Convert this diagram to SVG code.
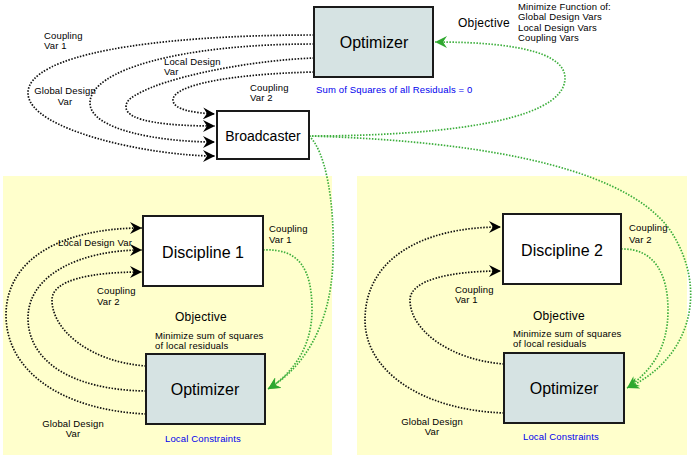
<svg xmlns="http://www.w3.org/2000/svg" width="700" height="458" viewBox="0 0 700 458">
<style>
text{font-family:"Liberation Sans",Arial,sans-serif;fill:#000}
.s{font-size:9.5px;letter-spacing:0.15px}
.b{fill:#0000ee}
.m{font-size:12px;letter-spacing:0.2px}
.l{font-size:16px}
.box{stroke:#1a1a1a;stroke-width:2}
.opt{fill:#d6e3e3}
.dis{fill:#fff}
.panel{fill:#ffffcc}
.k{fill:none;stroke:#111;stroke-width:1.7;stroke-dasharray:1.5 1.5;marker-end:url(#ak)}
.g{fill:none;stroke:#3cae3c;stroke-width:1.7;stroke-dasharray:1.5 1.5}
.ga{marker-end:url(#ag)}
</style>
<defs>
<marker id="ak" markerUnits="userSpaceOnUse" markerWidth="14" markerHeight="12" refX="12" refY="6" orient="auto" viewBox="0 0 14 12">
<path d="M0,0 L12,6 L0,12 L4,6 z" fill="#000"/>
</marker>
<marker id="ag" markerUnits="userSpaceOnUse" markerWidth="14" markerHeight="12" refX="12" refY="6" orient="auto" viewBox="0 0 14 12">
<path d="M0,0 L12,6 L0,12 L4,6 z" fill="#2fa82f"/>
</marker>
</defs>
<rect class="panel" x="3" y="176" width="329" height="279"/>
<rect class="panel" x="357" y="176" width="330" height="279"/>
<g id="connectors">
<path class="k" d="M314,35 C150,35 28,55 28,93 C28,130 150,156 215,156"/>
<path class="k" d="M314,44 C180,44 90,70 90,103 C90,130 160,142 215,142"/>
<path class="k" d="M314,58 C260,60 190,72 150,88 C132,96 126,100 126,107 C126,122 170,126 215,126"/>
<path class="k" d="M314,72 C230,74 173,85 173,100 C173,110 195,113 215,114"/>
<path class="g ga" d="M309,136 C420,136 565,125 565,78 C565,45 480,42 435,42"/>
<path class="g ga" d="M309,136 C450,140 620,160 670,230 C710,290 690,360 627,388"/>
<path class="g ga" d="M309,136 C325,150 335,200 333,260 C331,330 300,370 268,389"/>
<path class="g ga" d="M263,250 C300,248 312,270 312,310 C312,350 290,375 268,389"/>
<path class="g ga" d="M621,249 C655,248 668,275 668,310 C668,350 650,372 627,388"/>
<path class="k" d="M146,414 C60,410 6,370 6,315 C6,260 60,228 142,228"/>
<path class="k" d="M146,391 C70,390 28,360 28,318 C28,275 80,250 142,250"/>
<path class="k" d="M146,366 C90,362 52,330 52,300 C52,280 90,272 142,272"/>
<path class="k" d="M504,413 C420,410 365,370 365,320 C365,260 420,227 501,227"/>
<path class="k" d="M504,364 C450,360 410,330 410,300 C410,280 450,271 501,271"/>
</g>
<g id="optimizer-top">
<rect class="box opt" x="314" y="7" width="119" height="70"/>
<text class="l" x="374" y="48" text-anchor="middle">Optimizer</text>
</g>
<g id="broadcaster">
<rect class="box dis" x="217" y="111" width="92" height="48"/>
<text x="263" y="141" font-size="14" text-anchor="middle">Broadcaster</text>
</g>
<g id="discipline1">
<rect class="box dis" x="143" y="216" width="120" height="70"/>
<text class="l" x="203" y="258" text-anchor="middle">Discipline 1</text>
</g>
<g id="optimizer1">
<rect class="box opt" x="146" y="354" width="119" height="70"/>
<text class="l" x="205" y="395" text-anchor="middle">Optimizer</text>
</g>
<g id="discipline2">
<rect class="box dis" x="503" y="214" width="118" height="70"/>
<text class="l" x="562" y="256" text-anchor="middle">Discipline 2</text>
</g>
<g id="optimizer2">
<rect class="box opt" x="504" y="353" width="120" height="70"/>
<text class="l" x="564" y="394" text-anchor="middle">Optimizer</text>
</g>
<g id="labels">
<text class="s" x="44" y="39">Coupling</text>
<text class="s" x="44" y="49">Var 1</text>
<text class="s" x="65" y="94" text-anchor="middle">Global Design</text>
<text class="s" x="65" y="105" text-anchor="middle">Var</text>
<text class="s" x="164" y="65">Local Design</text>
<text class="s" x="164" y="75">Var</text>
<text class="s" x="250" y="91">Coupling</text>
<text class="s" x="250" y="101">Var 2</text>
<text class="s b" x="316" y="93">Sum of Squares of all Residuals = 0</text>
<text class="m" x="458" y="27">Objective</text>
<text class="s" x="518" y="10">Minimize Function of:</text>
<text class="s" x="518" y="20">Global Design Vars</text>
<text class="s" x="518" y="31">Local Design Vars</text>
<text class="s" x="518" y="41">Coupling Vars</text>
<text class="s" x="58" y="246">Local Design Var</text>
<text class="s" x="97" y="294">Coupling</text>
<text class="s" x="97" y="305">Var 2</text>
<text class="s" x="269" y="232">Coupling</text>
<text class="s" x="269" y="243">Var 1</text>
<text class="m" x="175" y="321">Objective</text>
<text class="s" x="155" y="339">Minimize sum of squares</text>
<text class="s" x="155" y="349">of local residuals</text>
<text class="s" x="73" y="427" text-anchor="middle">Global Design</text>
<text class="s" x="73" y="437" text-anchor="middle">Var</text>
<text class="s b" x="165" y="442">Local Constraints</text>
<text class="s" x="629" y="231">Coupling</text>
<text class="s" x="629" y="243">Var 2</text>
<text class="s" x="455" y="293">Coupling</text>
<text class="s" x="455" y="303">Var 1</text>
<text class="m" x="533" y="320">Objective</text>
<text class="s" x="513" y="337">Minimize sum of squares</text>
<text class="s" x="513" y="347">of local residuals</text>
<text class="s" x="432" y="425" text-anchor="middle">Global Design</text>
<text class="s" x="432" y="435" text-anchor="middle">Var</text>
<text class="s b" x="523" y="440">Local Constraints</text>
</g>
</svg>
